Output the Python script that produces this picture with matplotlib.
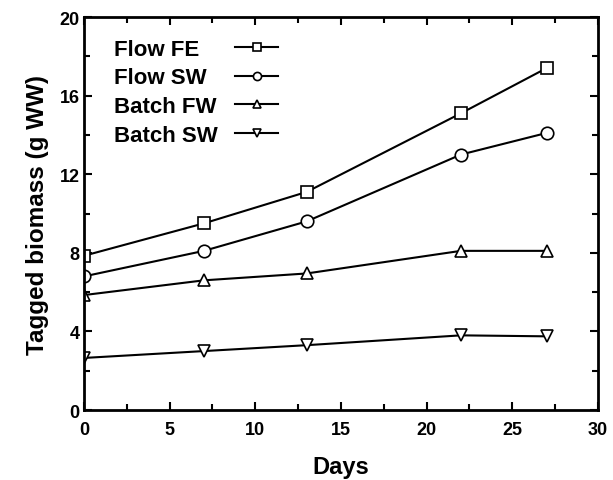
import matplotlib
matplotlib.use('Agg')
import matplotlib.pyplot as plt
from matplotlib.lines import Line2D
from matplotlib.ticker import MultipleLocator

plt.rcParams['font.family'] = ['Liberation Sans', 'DejaVu Sans']
plt.rcParams['font.weight'] = 'bold'

days = [0, 7, 13, 22, 27]
flow_fe = [7.85, 9.5, 11.1, 15.1, 17.4]
flow_sw = [6.8, 8.1, 9.6, 13.0, 14.1]
batch_fw = [5.85, 6.6, 6.95, 8.1, 8.1]
batch_sw = [2.65, 3.0, 3.3, 3.8, 3.75]

labels = ['Flow FE', 'Flow SW', 'Batch FW', 'Batch SW']
markers = ['s', 'o', '^', 'v']
values = [flow_fe, flow_sw, batch_fw, batch_sw]

fig = plt.figure(figsize=(6.13, 4.81), dpi=100)
ax = fig.add_axes([0.137, 0.1455, 0.8385, 0.817])

lines = []
for label, vals, mk in zip(labels, values, markers):
    ln, = ax.plot(days, vals, color='black', linewidth=1.5, marker=mk, markersize=9,
                  markerfacecolor='white', markeredgecolor='black',
                  markeredgewidth=1.2, label=label)
    lines.append(ln)

ax.set_xlim(0, 30)
ax.set_ylim(0, 20)
ax.xaxis.set_major_locator(MultipleLocator(5))
ax.xaxis.set_minor_locator(MultipleLocator(2.5))
ax.yaxis.set_major_locator(MultipleLocator(4))
ax.yaxis.set_minor_locator(MultipleLocator(2))
ax.tick_params(which='both', direction='in', top=True, right=True, width=1.5)
ax.tick_params(which='major', length=6, labelsize=13)
ax.tick_params(which='minor', length=4)
ax.tick_params(axis='x', pad=8)
ax.tick_params(axis='y', pad=3)
for lab in ax.get_xticklabels() + ax.get_yticklabels():
    lab.set_fontweight('bold')
for sp in ax.spines.values():
    sp.set_linewidth(2)

ax.set_xlabel('Days', fontsize=17, fontweight='bold', labelpad=12)
ax.set_ylabel('Tagged biomass (g WW)', fontsize=17.5, fontweight='bold', labelpad=8)

# legend: names on the left, keys in a column to the right
common = dict(loc='upper left', frameon=False, labelspacing=0.35,
              borderpad=0, borderaxespad=0, prop={'weight': 'bold', 'size': 16})
blank = [Line2D([], [], linestyle='none') for _ in labels]
leg_txt = ax.legend(blank, labels, handlelength=0, handletextpad=0,
                    bbox_to_anchor=(0.058, 0.945), **common)
ax.add_artist(leg_txt)
ax.legend(lines, labels, handlelength=1.95, handletextpad=0, markerscale=0.65,
          labelcolor='none', bbox_to_anchor=(0.294, 0.945), **common)

fig.savefig('out.png', dpi=100)
